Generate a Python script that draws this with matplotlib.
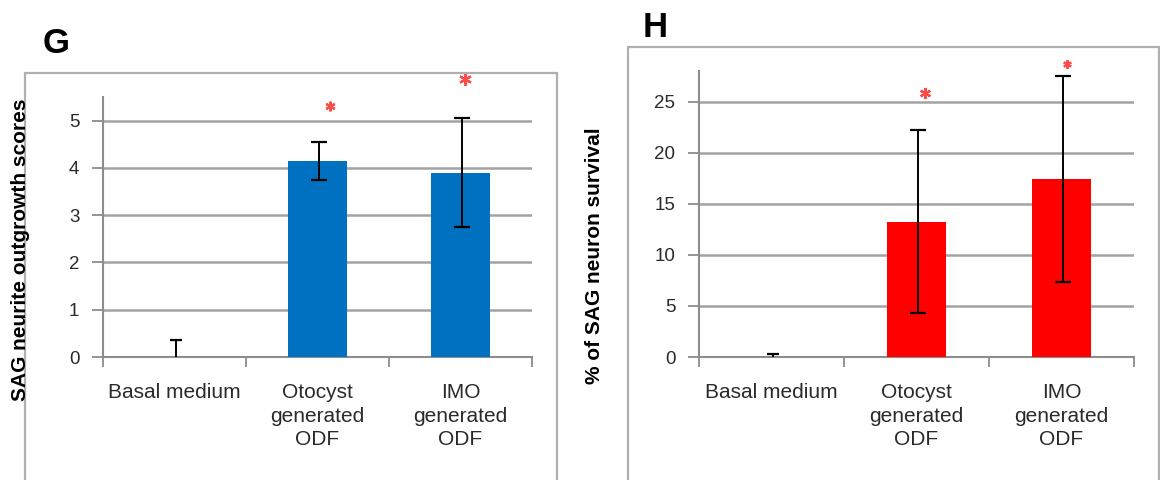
import matplotlib
matplotlib.use("Agg")
import matplotlib.pyplot as plt
from matplotlib.patches import Rectangle

plt.rcParams["font.family"] = ["Liberation Sans", "DejaVu Sans"]

categories = ["Basal medium", "Otocyst\ngenerated\nODF", "IMO\ngenerated\nODF"]

# G: neurite outgrowth scores
g_means = [0.0, 4.14, 3.90]
g_err = [0.37, 0.40, 1.15]
g_stars = [None, 5.32, 5.89]

# H: % neuron survival
h_means = [0.0, 13.25, 17.45]
h_err = [0.26, 8.95, 10.1]
h_stars = [None, 25.8, 28.7]

W, H = 1160, 480
GRID = "#a3a3a3"
AXIS = "#8c8c8c"
STAR = "#ff4a4a"


def px_axes(fig, left, top, right, bottom):
    return fig.add_axes([left / W, 1 - bottom / H, (right - left) / W, (bottom - top) / H])


def frame(fig, left, top, right, bottom):
    fig.add_artist(Rectangle((left / W, 1 - bottom / H), (right - left) / W, (bottom - top) / H,
                             transform=fig.transFigure, facecolor="none",
                             edgecolor="#b0b0b0", linewidth=1.6, clip_on=False))


def panel(ax, means, err, stars, color, ylim, yticks, star_dx, star_sizes):
    x = list(range(len(means)))
    ax.bar(x, means, width=0.41, color=color, zorder=3)
    for i in x:
        xe = i + 0.01
        if means[i] == 0:
            # only the upper half is visible above the baseline
            ax.vlines(xe, means[i], means[i] + err[i], color="black", linewidth=1.4, zorder=4)
            ax.hlines(means[i] + err[i], xe - 0.04, xe + 0.04, color="black",
                      linewidth=1.6, zorder=4)
        else:
            ax.errorbar(xe, means[i], yerr=err[i], fmt="none", ecolor="black",
                        elinewidth=1.4, capsize=6, capthick=1.6, zorder=4)
        if stars[i] is not None:
            ax.plot(i + star_dx[i], stars[i], marker=(6, 2, 0), color=STAR,
                    markersize=star_sizes[i], markeredgewidth=1.6, clip_on=False, zorder=5)
    ax.set_xlim(-0.5, 2.5)
    ax.set_ylim(*ylim)
    ax.set_yticks(yticks)
    ax.yaxis.grid(True, color=GRID, linewidth=1.8, zorder=0)
    ax.set_axisbelow(True)
    ax.set_xticks(x)
    ax.set_xticklabels(categories, linespacing=1.3)
    ax.set_xticks([-0.5, 0.5, 1.5, 2.5], minor=True)
    ax.tick_params(axis="x", which="major", length=0, pad=19, labelsize=15, labelcolor="#2a2a2a")
    ax.tick_params(axis="x", which="minor", length=7, width=1.3, color=AXIS, direction="out")
    ax.tick_params(axis="y", length=8, width=1.3, color=AXIS, direction="out",
                   pad=9, labelsize=13.5, labelcolor="#2a2a2a")
    for side in ("top", "right"):
        ax.spines[side].set_visible(False)
    for side in ("left", "bottom"):
        ax.spines[side].set_color(AXIS)
        ax.spines[side].set_linewidth(1.5)


fig = plt.figure(figsize=(W / 100, H / 100), dpi=100)

frame(fig, 25, 73, 557, 520)
frame(fig, 628, 47, 1159, 520)

ax_g = px_axes(fig, 103, 97, 532, 357)
panel(ax_g, g_means, g_err, g_stars, "#0070c0", (0, 5.5), range(0, 6),
      [0, 0.09, 0.03], [0, 7, 9])

ax_h = px_axes(fig, 699, 71, 1134, 357)
panel(ax_h, h_means, h_err, h_stars, "#ff0000", (0, 28), range(0, 26, 5),
      [0, 0.06, 0.04], [0, 8, 6])

label_font = ["Liberation Sans Narrow", "Liberation Sans", "DejaVu Sans"]
fig.text(21 / W, 1 - 250 / H, "SAG neurite outgrowth scores", rotation=90,
         ha="center", va="center", fontsize=15, fontweight="bold", family=label_font)
fig.text(594 / W, 1 - 256 / H, "% of SAG neuron survival", rotation=90,
         ha="center", va="center", fontsize=15, fontweight="bold", family=label_font)

fig.text(43 / W, 1 - 53 / H, "G", fontsize=25, fontweight="bold", ha="left", va="baseline")
fig.text(643 / W, 1 - 37 / H, "H", fontsize=25, fontweight="bold", ha="left", va="baseline")

fig.savefig("out.png", dpi=100, facecolor="white")
